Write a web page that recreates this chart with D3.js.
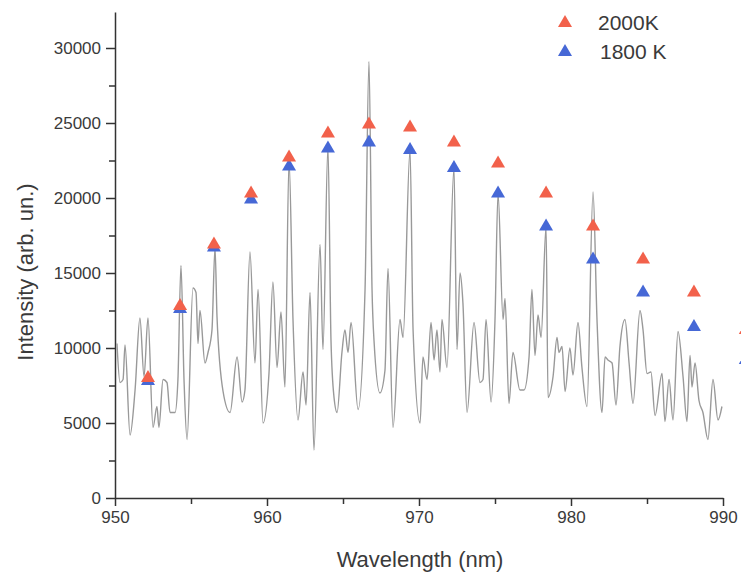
<!DOCTYPE html>
<html lang="en">
<head>
    <meta charset="UTF-8">
    <title>Intensity vs Wavelength</title>
    <script src="https://d3js.org/d3.v7.min.js"></script>
    <style>
        body { margin: 0; background: #fff; }
        .axis path, .axis line { stroke: #333; stroke-width: 1.5px; }
        .axis text { fill: #3a3a3a; font-family: "Liberation Sans", Arial, sans-serif; font-size: 17px; }
        .title { fill: #3a3a3a; font-family: "Liberation Sans", Arial, sans-serif; }
        .spectrum { fill: none; stroke: #999; stroke-width: 1.4px; }
    </style>
</head>
<body>
    <svg id="chart" width="741" height="575"></svg>

    <script>
        // spectrum (nm, arb. un.)
        const wavelength = [
            950.13, 950.33, 950.53, 950.66, 950.99, 951.32, 951.64, 951.91, 952.17, 952.50,
            952.76, 952.89, 953.16, 953.42, 953.62, 953.95, 954.14, 954.34, 954.54, 954.74,
            955.13, 955.33, 955.46, 955.59, 955.92, 956.12, 956.38, 956.58, 956.71, 957.11,
            957.57, 958.03, 958.36, 958.55, 958.88, 959.21, 959.41, 959.74, 960.13, 960.39,
            960.66, 960.92, 961.18, 961.45, 961.71, 962.04, 962.37, 962.57, 962.83, 963.09,
            963.49, 963.68, 964.01, 964.21, 964.41, 964.61, 964.93, 965.13, 965.33, 965.53,
            965.99, 966.45, 966.71, 966.91, 967.04, 967.43, 967.76, 967.96, 968.29, 968.75,
            968.95, 969.41, 969.61, 970.07, 970.26, 970.53, 970.79, 970.99, 971.18, 971.38,
            971.51, 971.84, 972.30, 972.50, 972.70, 972.89, 973.16, 973.62, 974.01, 974.21,
            974.41, 974.74, 975.00, 975.20, 975.53, 975.66, 975.92, 976.18, 976.64, 976.91,
            977.24, 977.43, 977.63, 977.83, 978.03, 978.36, 978.49, 978.82, 979.08, 979.21,
            979.41, 979.61, 979.93, 980.13, 980.46, 980.72, 981.05, 981.45, 981.71, 982.04,
            982.24, 982.43, 982.70, 982.96, 983.22, 983.55, 983.82, 984.08, 984.54, 984.74,
            985.00, 985.26, 985.53, 985.99, 986.18, 986.45, 986.71, 987.04, 987.37, 987.63,
            987.83, 987.96, 988.16, 988.42, 988.68, 989.01, 989.34, 989.67, 989.93
        ];
        const intensity = [
            10300, 7700, 7900, 10200, 4200, 7200, 12000, 8100, 12000, 4700,
            6100, 4700, 7900, 7700, 5700, 5700, 7900, 15500, 7900, 3900,
            14000, 13700, 10300, 12500, 9000, 9700, 11200, 16700, 12100, 7100,
            5700, 9400, 6400, 7200, 16400, 9000, 13900, 5000, 8300, 14400,
            8700, 12400, 7400, 22500, 11900, 5200, 8400, 6200, 13700, 3200,
            16900, 9900, 23400, 10500, 6700, 5700, 9700, 11200, 9700, 11700,
            5900, 13900, 29100, 13900, 10500, 7000, 8500, 15300, 4700, 11900,
            10700, 23200, 11200, 5000, 9400, 7900, 11700, 9200, 11200, 8400,
            11900, 8700, 22000, 9900, 15000, 13000, 5700, 11700, 7700, 7900,
            11900, 6400, 11900, 20300, 11900, 13300, 6300, 9700, 7200, 7200,
            9400, 13900, 9500, 12200, 10700, 18100, 6700, 8100, 10700, 9700,
            10100, 7100, 10000, 8200, 11700, 8700, 6100, 20400, 11900, 5700,
            9400, 9200, 9000, 6200, 10100, 11900, 9000, 6300, 12500, 11200,
            8300, 8400, 5500, 8300, 5100, 7900, 5200, 11100, 8100, 5100,
            9500, 7400, 9000, 6500, 5700, 3900, 7900, 5200, 6100
        ];

        // calculated line intensities (triangles)
        const peakWl = [952.17, 954.28, 956.51, 958.95, 961.45, 964.01, 966.71, 969.41,
                        972.30, 975.20, 978.36, 981.45, 984.74, 988.09, 991.5];
        const t2000 = [8000, 12800, 16900, 20300, 22700, 24300, 24900, 24700,
                       23700, 22300, 20300, 18100, 15900, 13700, 11200];
        const t1800 = [7800, 12600, 16700, 19900, 22100, 23300, 23700, 23200,
                       22000, 20300, 18100, 15900, 13700, 11400, 9200];

        const seriesNames = ["2000K", "1800 K"];
        const seriesColors = ["#f2614b", "#4668d6"];

        const xTicks = [950, 960, 970, 980, 990];
        const yTicks = [0, 5000, 10000, 15000, 20000, 25000, 30000];

        const svg = d3.select("#chart");
        const padL = 115, padR = 723, padT = 12, padB = 498;

        const x = d3.scaleLinear().domain([950, 990]).range([padL, padR]);
        const y = d3.scaleLinear().domain([0, 32400]).range([padB, padT]);

        // minor ticks first, then major
        svg.append("g").attr("class", "axis")
            .attr("transform", `translate(0,${padB})`)
            .call(d3.axisBottom(x).tickValues(d3.range(955, 990, 10)).tickSize(6).tickFormat(""))
            .call(g => g.select(".domain").remove());
        svg.append("g").attr("class", "axis")
            .attr("transform", `translate(${padL},0)`)
            .call(d3.axisLeft(y).tickValues(d3.range(2500, 32400, 5000)).tickSize(6).tickFormat(""))
            .call(g => g.select(".domain").remove());

        svg.append("g").attr("class", "axis")
            .attr("transform", `translate(0,${padB})`)
            .call(d3.axisBottom(x).tickValues(xTicks).tickSize(8).tickSizeOuter(0).tickPadding(5).tickFormat(d3.format("d")));

        svg.append("g").attr("class", "axis")
            .attr("transform", `translate(${padL},0)`)
            .call(d3.axisLeft(y).tickValues(yTicks).tickSize(9).tickSizeOuter(0).tickPadding(5).tickFormat(d3.format("d")));

        // spectrum
        const pts = wavelength.map((w, i) => [w, intensity[i]]);
        svg.append("path")
            .datum(pts)
            .attr("class", "spectrum")
            .attr("d", d3.line().x(d => x(d[0])).y(d => y(d[1])).curve(d3.curveMonotoneX));

        // triangles: blue below, red on top
        const tri = d3.symbol().type(d3.symbolTriangle).size(85);
        [[t1800, 1], [t2000, 0]].forEach(([vals, k]) => {
            svg.append("g").selectAll("path")
                .data(peakWl.map((w, i) => [w, vals[i]]))
                .join("path")
                .attr("d", tri)
                .attr("fill", seriesColors[k])
                .attr("transform", d => `translate(${x(d[0])},${y(d[1])})`);
        });

        // legend
        seriesNames.forEach((name, i) => {
            const ly = 23 + i * 29;
            svg.append("path").attr("d", tri).attr("fill", seriesColors[i])
                .attr("transform", `translate(565,${ly})`);
            svg.append("text").attr("class", "title")
                .attr("x", 598 + i * 2).attr("y", ly + 7)
                .attr("font-size", 21)
                .text(name);
        });

        // axis titles
        svg.append("text").attr("class", "title")
            .attr("x", (padL + padR) / 2 + 1).attr("y", 567)
            .attr("text-anchor", "middle").attr("font-size", 22)
            .text("Wavelength (nm)");

        svg.append("text").attr("class", "title")
            .attr("transform", "translate(33,272) rotate(-90)")
            .attr("text-anchor", "middle").attr("font-size", 22)
            .text("Intensity (arb. un.)");
    </script>
</body>
</html>
